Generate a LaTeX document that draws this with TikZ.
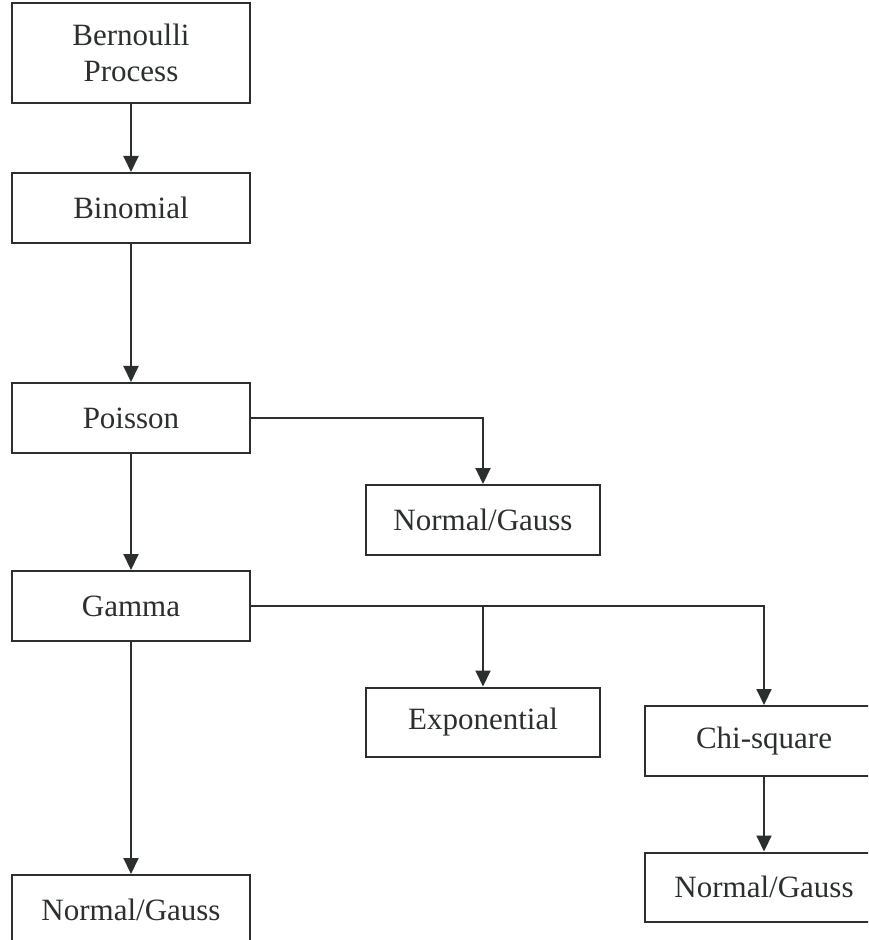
\documentclass[tikz,border=0pt]{standalone}
\usepackage{fontspec}
\setmainfont{Liberation Serif}
\usetikzlibrary{arrows.meta}
\definecolor{ink}{HTML}{2B302D}
\begin{document}
\begin{tikzpicture}[x=.5pt, y=-.5pt, line join=miter, >={Triangle[length=8pt,width=7.5pt]},
	box/.style={draw=ink, line width=1pt, text=ink, minimum width=119pt, minimum height=35pt, align=center, inner sep=0pt, font=\fontsize{15.5}{18}\selectfont},
	link/.style={draw=ink, line width=1pt, ->}]
	\useasboundingbox (0,0) rectangle (868,940);
	\clip (0,0) rectangle (868,940);
	% main chain
	\node[box, minimum height=50pt] (bern) at (131,53) {Bernoulli\\Process};
	\node[box] (binom) at (131,208) {Binomial};
	\node[box] (pois) at (131,418) {Poisson};
	\node[box] (gamma) at (131,606) {Gamma};
	\node[box] (normA) at (131,910) {Normal/Gauss};
	% side branches
	\node[box, minimum width=117pt] (normB) at (483,520) {Normal/Gauss};
	\node[box, minimum width=117pt, minimum height=34.5pt] (expo) at (483,722) {Exponential};
	\node[box] (chi) at (764,741) {Chi-square};
	\node[box, minimum height=34.5pt] (normC) at (764,887) {Normal/Gauss};
	\draw[link] (bern) -- (binom);
	\draw[link] (binom) -- (pois);
	\draw[link] (pois) -- (gamma);
	\draw[link] (gamma) -- (normA);
	\draw[link] (pois.east) -| (normB.north);
	\draw[link] (gamma.east) -| (chi.north);
	\draw[link] (gamma.east -| expo.north) -- (expo.north);
	\draw[link] (chi) -- (normC);
\end{tikzpicture}
\end{document}
